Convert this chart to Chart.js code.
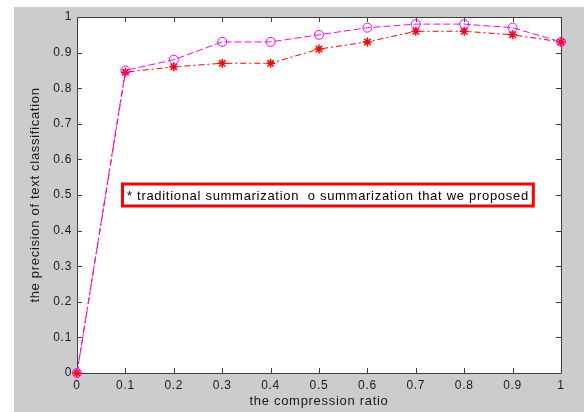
<!DOCTYPE html>
<html>
<head>
<meta charset="utf-8">
<script src="https://cdn.jsdelivr.net/npm/chart.js@4/dist/chart.umd.min.js"></script>
<style>
  html, body { margin: 0; padding: 0; background: #fff; }
  #wrap { width: 584px; height: 412px; }
</style>
</head>
<body>
<div id="wrap"><canvas id="chart" width="584" height="412"></canvas></div>
<script>
// compression ratio on the x axis
var ratios = [0, 0.1, 0.2, 0.3, 0.4, 0.5, 0.6, 0.7, 0.8, 0.9, 1];
// precision, traditional summarization (red stars)
var traditional = [0, 0.845, 0.86, 0.87, 0.87, 0.91, 0.93, 0.96, 0.96, 0.95, 0.93];
// precision, the proposed summarization (magenta circles)
var proposed = [0, 0.85, 0.88, 0.93, 0.93, 0.95, 0.97, 0.98, 0.98, 0.97, 0.93];
var tickValues = [0, 0.1, 0.2, 0.3, 0.4, 0.5, 0.6, 0.7, 0.8, 0.9, 1];
var legendText = '* traditional summarization  o summarization that we proposed';

var FONT = '"Liberation Sans", Arial, sans-serif';

function pairs(ys) {
  return ratios.map(function (x, i) { return { x: x, y: ys[i] }; });
}

function tickLabel(v) {
  if (v === 0 || v === 1) return String(v);
  return v.toFixed(1);
}

// grey figure, white axes, box, inward ticks (matlab look)
var figurePlugin = {
  id: 'figure',
  beforeDraw: function (chart) {
    var ctx = chart.ctx, a = chart.chartArea;
    ctx.save();
    ctx.fillStyle = '#ffffff';
    ctx.fillRect(0, 0, chart.width, chart.height);
    ctx.fillStyle = '#cccccc';
    ctx.fillRect(14, 7, chart.width - 14, chart.height - 7);
    ctx.fillStyle = '#ffffff';
    ctx.fillRect(a.left, a.top, a.right - a.left, a.bottom - a.top);
    ctx.restore();
    // matlab screen fonts run a bit wide
    ctx.letterSpacing = '0.7px';
  },
  beforeDatasetsDraw: function (chart) {
    var ctx = chart.ctx, a = chart.chartArea;
    var xs = chart.scales.x, ys = chart.scales.y;
    ctx.save();
    ctx.strokeStyle = '#404040';
    ctx.lineWidth = 1;
    ctx.beginPath();
    ctx.rect(a.left + 0.5, a.top + 0.5, a.right - a.left, a.bottom - a.top);
    tickValues.forEach(function (v) {
      var px = Math.round(xs.getPixelForValue(v)) + 0.5;
      ctx.moveTo(px, a.bottom); ctx.lineTo(px, a.bottom - 5);
      ctx.moveTo(px, a.top); ctx.lineTo(px, a.top + 5);
      var py = Math.round(ys.getPixelForValue(v)) + 0.5;
      ctx.moveTo(a.left, py); ctx.lineTo(a.left + 5, py);
      ctx.moveTo(a.right, py); ctx.lineTo(a.right - 5, py);
    });
    ctx.stroke();
    ctx.restore();
  },
  afterDraw: function (chart) {
    var ctx = chart.ctx;
    var xs = chart.scales.x, ys = chart.scales.y;
    ctx.save();
    ctx.font = '13px ' + FONT;
    ctx.letterSpacing = '0.7px';
    var w = ctx.measureText(legendText).width;
    var left = Math.round(xs.getPixelForValue(0.091));
    var cy = Math.round(ys.getPixelForValue(0.5));
    var boxW = w + 12, boxH = 25;
    ctx.fillStyle = '#ffffff';
    ctx.fillRect(left, cy - boxH / 2, boxW, boxH);
    ctx.strokeStyle = '#ff0000';
    ctx.lineWidth = 3;
    ctx.strokeRect(left + 1.5, cy - boxH / 2 + 1.5, boxW - 3, boxH - 3);
    ctx.fillStyle = '#000000';
    ctx.textBaseline = 'middle';
    ctx.fillText(legendText, left + 6, cy + 1);
    ctx.restore();
  }
};

new Chart(document.getElementById('chart'), {
  type: 'line',
  data: {
    datasets: [{
      label: 'traditional summarization',
      data: pairs(traditional),
      order: 2,
      borderColor: '#ff0000',
      borderWidth: 1,
      borderDash: [6, 3, 2, 3],
      pointStyle: 'star',
      pointRadius: 4.5,
      pointBorderColor: '#ff0000',
      pointBorderWidth: 1.5,
      pointBackgroundColor: '#ff0000',
      fill: false,
      tension: 0,
      clip: false
    }, {
      label: 'summarization that we proposed',
      data: pairs(proposed),
      order: 1,
      borderColor: '#ff00ff',
      borderWidth: 1,
      borderDash: [7, 3],
      pointStyle: 'circle',
      pointRadius: 4.5,
      pointBorderColor: '#ff00ff',
      pointBorderWidth: 1,
      pointBackgroundColor: 'rgba(0,0,0,0)',
      fill: false,
      tension: 0,
      clip: false
    }]
  },
  options: {
    responsive: false,
    animation: false,
    events: [],
    layout: { padding: { left: 0, right: 23, top: 17, bottom: 0 } },
    plugins: { legend: { display: false }, tooltip: { enabled: false } },
    scales: {
      x: {
        type: 'linear',
        min: 0, max: 1,
        afterBuildTicks: function (s) { s.ticks = tickValues.map(function (v) { return { value: v }; }); },
        afterFit: function (s) { s.height = 39; },
        grid: { display: false, drawTicks: false },
        border: { display: false },
        ticks: {
          padding: 5,
          color: '#1a1a1a',
          font: { family: FONT, size: 12 },
          maxRotation: 0,
          autoSkip: false,
          callback: function (v) { return tickLabel(v); }
        },
        title: {
          display: true,
          text: 'the compression ratio',
          color: '#1a1a1a',
          font: { family: FONT, size: 13 },
          padding: { top: 3, bottom: 3 }
        }
      },
      y: {
        type: 'linear',
        min: 0, max: 1,
        afterBuildTicks: function (s) { s.ticks = tickValues.map(function (v) { return { value: v }; }); },
        afterFit: function (s) { s.width = 77; },
        grid: { display: false, drawTicks: false },
        border: { display: false },
        ticks: {
          padding: 5,
          color: '#1a1a1a',
          font: { family: FONT, size: 12 },
          autoSkip: false,
          callback: function (v) { return tickLabel(v); }
        },
        title: {
          display: true,
          text: 'the precision of text classification',
          color: '#1a1a1a',
          font: { family: FONT, size: 13 },
          padding: { top: 28, bottom: 0 }
        }
      }
    }
  },
  plugins: [figurePlugin]
});
</script>
</body>
</html>
